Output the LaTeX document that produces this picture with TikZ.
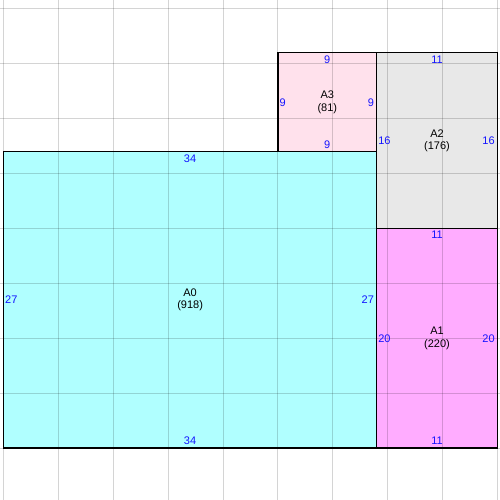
\documentclass[tikz,border=0pt]{standalone}
\usepackage{fontspec}
\setmainfont{Liberation Sans}
\definecolor{acyan}{RGB}{176,255,255}
\definecolor{apink}{RGB}{255,172,255}
\definecolor{agray}{RGB}{232,232,232}
\definecolor{alight}{RGB}{255,225,236}
\definecolor{numblue}{RGB}{20,20,255}
\begin{document}
\begin{tikzpicture}[x=10.976pt,y=10.976pt,
  box/.style={draw=black,line width=1.2pt},
  gridline/.style={draw=black,draw opacity=0.17,line width=0.9pt},
  num/.style={text=numblue,font=\fontsize{11}{12}\selectfont,inner sep=0pt},
  tnum/.style={num,anchor=north,yshift=-2.5pt},
  bnum/.style={num,anchor=south,yshift=3pt},
  lnum/.style={num,anchor=west,xshift=1.5pt},
  rnum/.style={num,anchor=east,xshift=-2.5pt},
  lab/.style={align=center,font=\fontsize{11}{12.5}\selectfont,inner sep=0pt}]
\useasboundingbox (-0.319,-4.738) rectangle (45.236,40.816);
\fill[white] (-0.319,-4.738) rectangle (45.236,40.816);
% fills
\fill[acyan] (0,0) rectangle (34,27);
\fill[apink] (34,0) rectangle (45,20);
\fill[agray] (34,20) rectangle (45,36);
\fill[alight] (25,27) rectangle (34,36);
% grid
\foreach \gx in {0,5,...,45} \draw[gridline] (\gx,-4.738) -- (\gx,40.816);
\foreach \gy in {0,5,...,40} \draw[gridline] (-0.319,\gy) -- (45.236,\gy);
% borders
\draw[box] (0,0) rectangle (34,27);
\draw[box] (34,0) rectangle (45,20);
\draw[box] (34,20) rectangle (45,36);
\draw[box] (25,27) rectangle (34,36);
% A0
\node[tnum] (a0t) at (17,27) {34};
\node[bnum] (a0b) at (17,0) {34};
\node[lnum] (a0l) at (0,13.5) {27};
\node[rnum] (a0r) at (34,13.5) {27};
\node[lab] (a0) at (17,13.5) {A0\\(918)};
% A1
\node[tnum] (a1t) at (39.5,20) {11};
\node[bnum] (a1b) at (39.5,0) {11};
\node[lnum] (a1l) at (34,10) {20};
\node[rnum] (a1r) at (45,10) {20};
\node[lab] (a1) at (39.5,10) {A1\\(220)};
% A2
\node[tnum] (a2t) at (39.5,36) {11};
\node[lnum] (a2l) at (34,28) {16};
\node[rnum] (a2r) at (45,28) {16};
\node[lab] (a2) at (39.5,28) {A2\\(176)};
% A3
\node[tnum] (a3t) at (29.5,36) {9};
\node[bnum] (a3b) at (29.5,27) {9};
\node[lnum] (a3l) at (25,31.5) {9};
\node[rnum] (a3r) at (34,31.5) {9};
\node[lab] (a3) at (29.5,31.5) {A3\\(81)};
\end{tikzpicture}
\end{document}
